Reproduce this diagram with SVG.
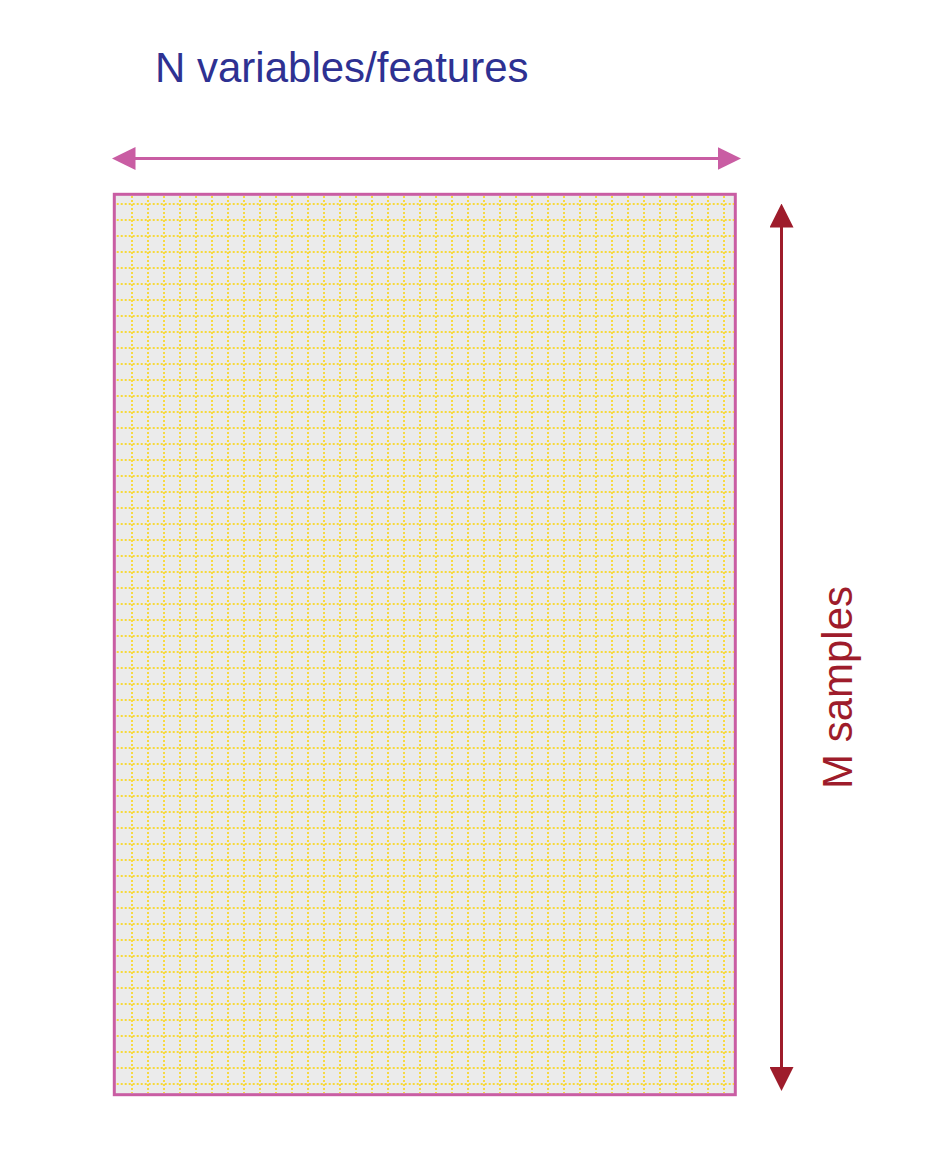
<svg xmlns="http://www.w3.org/2000/svg" width="938" height="1152" viewBox="0 0 938 1152">
<style>
.lbl{font-family:"Liberation Sans",Arial,sans-serif}
.grid{fill:none;stroke:#F7D93A;stroke-width:1.9;stroke-dasharray:2 2}
.frame{fill:#EBEBEB;stroke:#C95DA3;stroke-width:3}
</style>
<defs>
<marker id="ahPink" viewBox="0 0 23.5 23" markerWidth="23.5" markerHeight="23" refX="13.5" refY="11.5" orient="auto-start-reverse" markerUnits="userSpaceOnUse"><path d="M0,0 L23.5,11.5 L0,23 Z" fill="#C95DA3"/></marker>
<marker id="ahRed" viewBox="0 0 24 24" markerWidth="24" markerHeight="24" refX="14" refY="12" orient="auto-start-reverse" markerUnits="userSpaceOnUse"><path d="M0,0 L24,12 L0,24 Z" fill="#9E1C2B"/></marker>
</defs>
<rect width="938" height="1152" fill="#FFFFFF"/>
<g id="matrix">
<rect class="frame" x="114.3" y="194.3" width="621" height="900.4"/>
<path class="grid" d="M132,196V1093M148,196V1093M164,196V1093M180,196V1093M196,196V1093M212,196V1093M228,196V1093M244,196V1093M260,196V1093M276,196V1093M292,196V1093M308,196V1093M324,196V1093M340,196V1093M356,196V1093M372,196V1093M388,196V1093M404,196V1093M420,196V1093M436,196V1093M452,196V1093M468,196V1093M484,196V1093M500,196V1093M516,196V1093M532,196V1093M548,196V1093M564,196V1093M580,196V1093M596,196V1093M612,196V1093M628,196V1093M644,196V1093M660,196V1093M676,196V1093M692,196V1093M708,196V1093M724,196V1093"/>
<path class="grid" d="M116.7,204H734M116.7,220H734M116.7,236H734M116.7,252H734M116.7,268H734M116.7,284H734M116.7,300H734M116.7,316H734M116.7,332H734M116.7,348H734M116.7,364H734M116.7,380H734M116.7,396H734M116.7,412H734M116.7,428H734M116.7,444H734M116.7,460H734M116.7,476H734M116.7,492H734M116.7,508H734M116.7,524H734M116.7,540H734M116.7,556H734M116.7,572H734M116.7,588H734M116.7,604H734M116.7,620H734M116.7,636H734M116.7,652H734M116.7,668H734M116.7,684H734M116.7,700H734M116.7,716H734M116.7,732H734M116.7,748H734M116.7,764H734M116.7,780H734M116.7,796H734M116.7,812H734M116.7,828H734M116.7,844H734M116.7,860H734M116.7,876H734M116.7,892H734M116.7,908H734M116.7,924H734M116.7,940H734M116.7,956H734M116.7,972H734M116.7,988H734M116.7,1004H734M116.7,1020H734M116.7,1036H734M116.7,1052H734M116.7,1068H734M116.7,1084H734"/>
</g>
<g id="connectors">
<line x1="122" y1="158.5" x2="731" y2="158.5" stroke="#C95DA3" stroke-width="3" marker-start="url(#ahPink)" marker-end="url(#ahPink)"/>
<line x1="781.5" y1="213.5" x2="781.5" y2="1081" stroke="#9E1C2B" stroke-width="3" marker-start="url(#ahRed)" marker-end="url(#ahRed)"/>
</g>
<g id="label-n">
<text class="lbl" x="155" y="82" font-size="42" fill="#2E3192">N variables/features</text>
</g>
<g id="label-m">
<text class="lbl" transform="translate(852,789) rotate(-90)" x="0" y="0" font-size="42" fill="#9E1C2B">M samples</text>
</g>
</svg>
